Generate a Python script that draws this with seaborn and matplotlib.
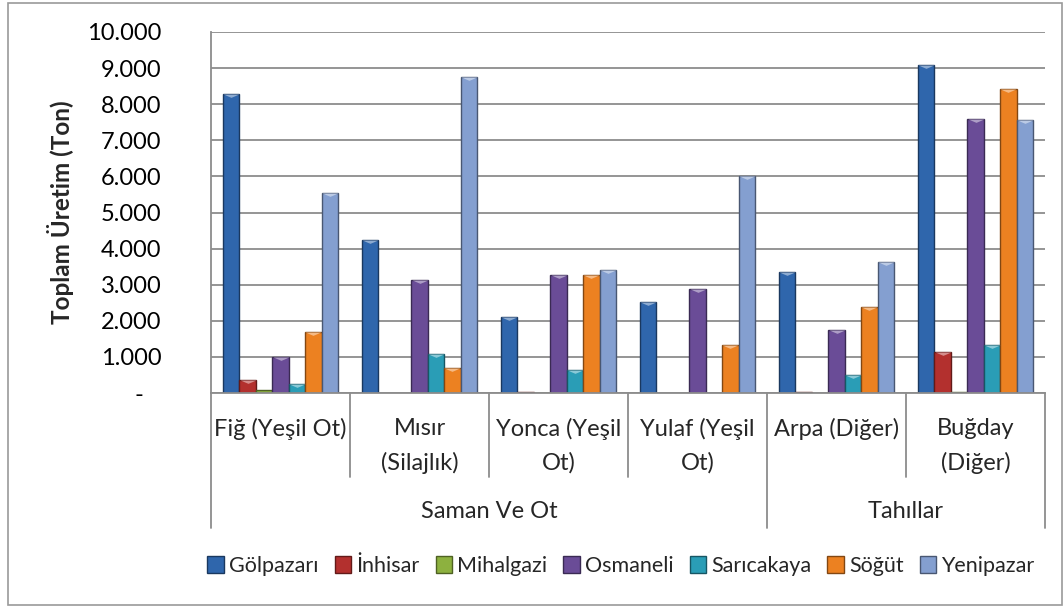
import matplotlib
matplotlib.use("Agg")
import matplotlib.pyplot as plt
import matplotlib.colors as mcolors
from matplotlib.patches import Rectangle
from matplotlib.lines import Line2D
from matplotlib.transforms import blended_transform_factory
from matplotlib.ticker import FuncFormatter, MultipleLocator
import seaborn as sns
import pandas as pd

# ---------------- data ----------------
crops = ["Fiğ (Yeşil Ot)", "Mısır (Silajlık)", "Yonca (Yeşil Ot)",
         "Yulaf (Yeşil Ot)", "Arpa (Diğer)", "Buğday (Diğer)"]
crop_labels = ["Fiğ (Yeşil Ot)", "Mısır\n(Silajlık)", "Yonca (Yeşil\nOt)",
               "Yulaf (Yeşil\nOt)", "Arpa (Diğer)", "Buğday\n(Diğer)"]
groups = ["Saman Ve Ot", "Tahıllar"]
group_sizes = [4, 2]
districts = ["Gölpazarı", "İnhisar", "Mihalgazi", "Osmaneli",
             "Sarıcakaya", "Söğüt", "Yenipazar"]

golpazari  = [8270, 4230, 2110, 2520, 3340, 9080]
inhisar    = [360, 0, 20, 0, 40, 1130]
mihalgazi  = [80, 0, 10, 0, 0, 20]
osmaneli   = [990, 3130, 3270, 2880, 1740, 7600]
saricakaya = [250, 1080, 640, 0, 500, 1330]
sogut      = [1680, 680, 3260, 1330, 2370, 8410]
yenipazar  = [5530, 8740, 3400, 6010, 3620, 7560]

series = [golpazari, inhisar, mihalgazi, osmaneli, saricakaya, sogut, yenipazar]
colors = ["#2F66AC", "#B3302E", "#8DB13F", "#6A4C97",
          "#2A9DB6", "#EC8121", "#849FD0"]

rows = []
for d, vals in zip(districts, series):
    for c, v in zip(crops, vals):
        rows.append({"crop": c, "district": d, "value": v})
df = pd.DataFrame(rows)

# ---------------- figure ----------------
W, H = 1064, 606
fig = plt.figure(figsize=(W / 100, H / 100), dpi=100)
sns.set_style("white")
FONT = ["Lato", "DejaVu Sans"]
plt.rcParams["font.family"] = FONT
FS = 17

def fy(px):
    return 1 - px / H

L, R, T, B = 211, 1045, 32, 393
ax = fig.add_axes([L / W, fy(B), (R - L) / W, (B - T) / H])

sns.barplot(data=df, x="crop", y="value", hue="district", order=crops,
            hue_order=districts, palette=colors, width=0.83, saturation=1,
            ax=ax, legend=True, linewidth=0)

# bevel look: dark edge + light top triangle
for p in ax.patches:
    h = p.get_height()
    if not (h > 0):
        continue
    fc = mcolors.to_rgb(p.get_facecolor())
    dark = tuple(c * 0.55 for c in fc)
    p.set_edgecolor(dark)
    p.set_linewidth(1.0)
    if h > 200:
        light = tuple(c + (1 - c) * 0.45 for c in fc)
        ax.plot(p.get_x() + p.get_width() / 2, h,
                marker=[(-1, 0), (1, 0), (0, -0.42), (-1, 0)],
                markersize=11.5, color=light,
                markeredgewidth=0, zorder=5)

GRID = "#8C8C8C"
ax.set_ylim(0, 10000)
ax.set_xlim(-0.5, len(crops) - 0.5)
ax.yaxis.set_major_locator(MultipleLocator(1000))
ax.yaxis.set_major_formatter(FuncFormatter(
    lambda v, _: "-   " if v == 0 else f"{int(v):,}".replace(",", ".")))
ax.grid(axis="y", color=GRID, linewidth=1.3)
ax.set_axisbelow(True)
for s in ["top", "right"]:
    ax.spines[s].set_visible(False)
for s in ["left", "bottom"]:
    ax.spines[s].set_color(GRID)
    ax.spines[s].set_linewidth(1.3)
ax.tick_params(axis="y", length=6.5, width=1.3, color=GRID, pad=29,
               labelsize=FS, labelcolor="black")
ax.set_xticks([])
ax.set_xlabel("")
ax.set_ylabel("")
for lab in ax.get_yticklabels():
    lab.set_family(FONT)

fig.text(60 / W, fy(212), "Toplam Üretim (Ton)", rotation=90, ha="center",
         va="center", fontsize=17.5, fontweight="bold", family=FONT)

# multi-level category axis
tr = blended_transform_factory(ax.transData, fig.transFigure)
outer = [-0.5]
acc = -0.5
for n in group_sizes:
    acc += n
    outer.append(acc)
for i in range(len(crops) + 1):
    xb = i - 0.5
    bottom = 528 if xb in outer else 477
    fig.add_artist(Line2D([xb, xb], [fy(B), fy(bottom)], transform=tr,
                          color=GRID, linewidth=1.3))

for i, lab in enumerate(crop_labels):
    fig.text(i, fy(418), lab, transform=tr, ha="center", va="top",
             fontsize=FS, family=FONT, linespacing=1.7, multialignment="center")

start = -0.5
for g, n in zip(groups, group_sizes):
    fig.text(start + n / 2, fy(512), g, transform=tr, ha="center",
             va="center", fontsize=FS, family=FONT)
    start += n

# legend
sns.move_legend(ax, "center", bbox_to_anchor=(621 / W, fy(566)),
                bbox_transform=fig.transFigure, ncol=7, frameon=False,
                title=None, fontsize=15.5, handlelength=0.75, handleheight=0.8,
                handletextpad=0.25, columnspacing=0.75)
leg = ax.get_legend()
for t in leg.get_texts():
    t.set_family(FONT)
for hnd, c in zip(leg.legend_handles, colors):
    hnd.set_edgecolor(tuple(x * 0.55 for x in mcolors.to_rgb(c)))
    hnd.set_linewidth(1.0)

# chart border
fig.add_artist(Rectangle((8 / W, fy(605)), (1062 - 8) / W, (605 - 3) / H,
                         transform=fig.transFigure, fill=False,
                         edgecolor="#9A9A9A", linewidth=1.2))

fig.savefig("out.png", dpi=100)
